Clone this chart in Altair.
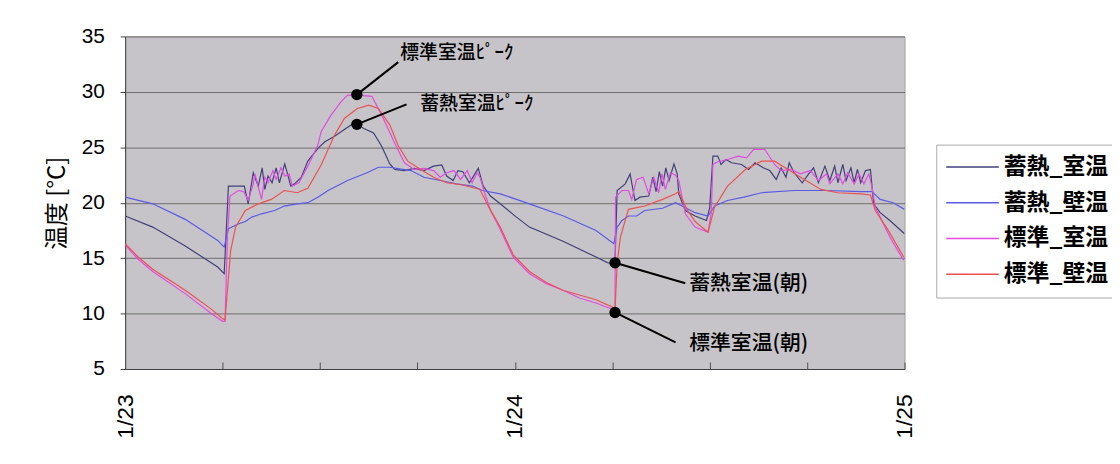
import altair as alt
import pandas as pd

# ---- data (hours from 1/23 00:00, temperature in degC) ----
series_names = ["蓄熱_室温", "蓄熱_壁温", "標準_室温", "標準_壁温"]
series_colors = ["#40407a", "#5a5ae6", "#e44ae4", "#ee5050"]

storage_room = [(0, 18.8), (1.7, 17.8), (3.7, 16.1), (5.7, 14.2), (6.1, 13.6), (6.36, 21.5), (7.34, 21.5),
                (7.58, 19.9), (7.89, 22.7), (8.2, 21.5), (8.44, 23.15), (8.6, 21.2), (8.8, 22.4), (9.05, 21.8),
                (9.3, 23.15), (9.5, 21.8), (9.83, 23.5), (10.0, 22.6), (10.2, 21.5), (10.44, 21.7), (10.85, 22.3),
                (11.25, 23.75), (11.87, 24.9), (12.3, 25.5), (12.9, 26.0), (13.5, 26.6), (14.1, 27.2), (14.27, 27.07),
                (14.7, 26.7), (15.3, 26.3), (15.8, 25.1), (16.3, 23.5), (16.6, 23.0), (17.2, 22.9), (17.8, 23.1),
                (18.4, 22.9), (19.0, 23.3), (19.5, 23.4), (19.8, 22.4), (20.2, 22.0), (20.5, 22.9), (20.8, 22.8),
                (21.2, 21.8), (21.75, 23.1), (22.05, 21.5), (22.5, 20.6), (23.1, 19.9), (24.1, 18.7), (24.9, 17.8),
                (27.0, 16.5), (29.0, 15.1), (29.7, 14.6), (30.17, 14.5), (30.3, 21.1), (30.8, 21.7), (31.1, 22.6),
                (31.4, 20.2), (31.7, 20.5), (32.25, 20.6), (32.5, 22.3), (32.7, 21.0), (32.9, 22.8), (33.1, 21.5),
                (33.3, 23.15), (33.5, 22.0), (33.8, 23.5), (34.0, 22.6), (34.1, 20.8), (34.5, 19.3), (35.1, 18.8),
                (35.8, 18.4), (36.0, 19.5), (36.2, 24.2), (36.5, 24.2), (36.7, 23.45), (37.0, 23.9), (37.35, 23.6),
                (37.96, 23.45), (38.4, 23.0), (38.8, 23.6), (39.3, 23.15), (39.7, 22.9), (40.1, 22.1), (40.4, 23.15),
                (40.7, 22.3), (40.9, 23.6), (41.2, 22.7), (41.7, 21.8), (42.1, 22.6), (42.4, 23.15), (42.7, 21.8),
                (43.1, 23.3), (43.4, 22.0), (43.7, 23.3), (43.9, 21.8), (44.2, 23.45), (44.4, 22.0), (44.7, 23.15),
                (44.9, 21.8), (45.1, 23.0), (45.3, 21.8), (45.6, 22.9), (45.9, 23.0), (46.1, 19.9), (46.5, 19.1),
                (47.1, 18.4), (48.0, 17.2)]

storage_wall = [(0, 20.5), (1.7, 19.9), (3.7, 18.5), (5.7, 16.6), (6.1, 16.0), (6.36, 17.65), (7.0, 18.1),
                (7.4, 18.3), (7.8, 18.7), (8.4, 19.0), (9.2, 19.3), (9.8, 19.7), (10.6, 19.9), (11.25, 20.0),
                (11.87, 20.5), (12.5, 21.1), (13.7, 22.0), (14.9, 22.7), (15.6, 23.2), (16.3, 23.2), (17.6, 22.9),
                (18.4, 22.3), (19.4, 22.0), (20.4, 21.7), (21.4, 21.5), (22.0, 21.1), (23.1, 20.8), (24.1, 20.3),
                (24.9, 19.9), (27.0, 18.8), (29.0, 17.5), (30.1, 16.3), (30.3, 17.8), (30.6, 18.4), (31.0, 18.8),
                (31.5, 18.8), (32.0, 19.3), (33.1, 19.5), (33.9, 20.0), (34.3, 19.7), (35.1, 19.1), (35.9, 18.8),
                (36.3, 19.7), (37.1, 20.2), (38.1, 20.5), (39.2, 20.9), (41.2, 21.1), (43.2, 21.1), (45.3, 21.0),
                (46.0, 21.0), (46.5, 20.3), (47.3, 20.0), (48.0, 19.4)]

standard_room = [(0, 16.2), (0.8, 14.9), (1.7, 13.8), (3.7, 11.8), (5.3, 10.0), (6.0, 9.3), (6.15, 9.3),
                 (6.3, 17.0), (6.46, 20.6), (6.97, 21.1), (7.3, 21.0), (7.58, 20.2), (7.89, 21.7), (7.99, 22.6),
                 (8.4, 20.3), (8.6, 22.3), (8.8, 21.8), (9.1, 22.9), (9.3, 22.1), (9.6, 23.15), (9.83, 22.4),
                 (10.1, 22.6), (10.3, 21.5), (10.7, 21.8), (11.25, 23.3), (11.87, 25.2), (12.07, 26.4), (12.68, 27.9),
                 (13.29, 29.1), (13.7, 29.7), (14.3, 29.7), (15.2, 29.6), (15.9, 27.6), (16.56, 25.5), (17.2, 23.6),
                 (17.8, 23.0), (18.4, 23.1), (19.0, 22.9), (19.4, 22.3), (19.8, 22.7), (20.25, 22.9), (20.66, 22.1),
                 (21.07, 22.9), (21.37, 21.8), (21.68, 22.7), (21.88, 22.2), (22.09, 21.1), (22.5, 19.3), (23.0, 17.9),
                 (23.9, 15.1), (24.9, 13.6), (25.94, 12.7), (26.96, 12.1), (27.98, 11.4), (29.0, 10.95), (30.0, 10.4),
                 (30.17, 10.1), (30.2, 20.5), (30.6, 21.1), (31.0, 21.1), (31.2, 20.3), (31.5, 22.1), (31.9, 22.3),
                 (32.25, 20.8), (32.56, 22.3), (32.86, 20.9), (33.07, 22.6), (33.27, 21.2), (33.58, 22.7),
                 (33.88, 22.5), (34.1, 22.0), (34.5, 19.0), (35.1, 17.8), (35.9, 17.35), (36.1, 19.1), (36.2, 23.45),
                 (36.5, 23.7), (37.1, 23.9), (37.76, 24.2), (38.27, 24.05), (38.7, 24.8), (39.4, 24.8), (40.0, 23.45),
                 (40.4, 22.9), (41.0, 23.0), (41.6, 22.6), (42.2, 22.9), (42.7, 22.0), (43.2, 22.6), (43.4, 21.7),
                 (43.9, 22.6), (44.2, 21.7), (44.5, 22.7), (44.9, 21.7), (45.2, 22.6), (45.5, 21.7), (45.8, 22.6),
                 (46.0, 21.4), (46.2, 19.6), (46.5, 18.7), (47.1, 16.9), (47.5, 15.9), (47.95, 14.8)]

standard_wall = [(0, 16.3), (0.8, 15.1), (1.7, 14.0), (3.7, 12.1), (5.3, 10.4), (5.95, 9.6), (6.15, 9.4),
                 (6.5, 15.7), (6.8, 17.8), (7.4, 19.3), (8.2, 19.9), (9.0, 20.3), (9.8, 21.1), (10.6, 20.9),
                 (11.25, 21.3), (12.07, 23.4), (12.9, 26.1), (13.5, 27.6), (14.3, 28.5), (15.0, 28.8), (15.6, 28.5),
                 (16.3, 27.0), (16.8, 25.2), (17.4, 23.75), (18.2, 23.0), (19.0, 22.3), (19.8, 21.8), (20.8, 21.6),
                 (21.85, 21.2), (22.4, 19.6), (23.1, 17.8), (23.9, 15.3), (24.9, 13.8), (25.94, 12.8), (26.96, 12.1),
                 (29.0, 11.25), (30.0, 10.6), (30.17, 10.3), (30.3, 14.5), (30.5, 16.9), (31.0, 19.4), (32.0, 19.7),
                 (33.1, 20.3), (33.9, 20.8), (34.1, 21.0), (34.6, 19.4), (35.1, 18.3), (35.9, 17.35), (36.3, 19.6),
                 (37.1, 21.5), (38.2, 23.0), (39.2, 23.75), (40.0, 23.75), (40.6, 23.2), (41.6, 22.3), (42.85, 21.2),
                 (43.9, 20.9), (45.3, 20.8), (45.9, 20.7), (46.2, 19.3), (47.0, 17.5), (47.95, 15.1)]

x_tick_hours = [6, 12, 18, 24, 30, 36, 42, 48]
x_label_hours = [0, 24, 48]
y_ticks = [5, 10, 15, 20, 25, 30, 35]

ann_labels = ["標準室温ﾋﾟｰｸ", "蓄熱室温ﾋﾟｰｸ", "蓄熱室温(朝)", "標準室温(朝)"]
ann_dot_h = [14.27, 14.27, 30.17, 30.17]
ann_dot_v = [29.75, 27.07, 14.58, 10.1]
ann_end_h = [16.82, 17.33, 34.5, 33.9]
ann_end_v = [32.68, 28.87, 12.74, 7.41]
ann_text_h = [16.94, 18.17, 34.74, 34.74]
ann_text_v = [33.48, 28.93, 12.68, 7.23]

# ---- tables ----
rows = []
for name, pts in zip(series_names, [storage_room, storage_wall, standard_room, standard_wall]):
    for i, (h, v) in enumerate(pts):
        rows.append({"s": name, "h": h, "v": v, "i": i})
df = pd.DataFrame(rows)

ann = pd.DataFrame({"label": ann_labels, "h": ann_dot_h, "v": ann_dot_v,
                    "h2": ann_end_h, "v2": ann_end_v, "th": ann_text_h, "tv": ann_text_v})
ticks_df = pd.DataFrame({"h": x_tick_hours})

NUM_FONT = "Liberation Sans"
JP_FONT = "Noto Sans CJK JP"

x_scale = alt.Scale(domain=[0, 48], nice=False, zero=False)
y_scale = alt.Scale(domain=[5, 35], nice=False, zero=False)

label_expr = "datum.value == 0 ? '1/23' : (datum.value == 24 ? '1/24' : '1/25')"

lines = alt.Chart(df).mark_line(strokeWidth=1.2, clip=True).encode(
    x=alt.X("h:Q", scale=x_scale,
            axis=alt.Axis(values=x_label_hours, labelExpr=label_expr, labelAngle=270, labelAlign="right",
                          labelBaseline="middle", labelPadding=25, ticks=False, grid=False,
                          domainColor="#404040", labelFont=NUM_FONT, labelFontSize=23, labelColor="#000000",
                          title=None)),
    y=alt.Y("v:Q", scale=y_scale,
            axis=alt.Axis(values=y_ticks, grid=True, gridColor="#6e6e6e", gridWidth=1,
                          domainColor="#404040", tickColor="#404040", tickSize=5, labelPadding=16,
                          labelFont=NUM_FONT, labelFontSize=21, labelColor="#000000",
                          title="温度 [°C]", titleFont=JP_FONT, titleFontSize=24, titleFontWeight="normal",
                          titleColor="#000000", titlePadding=12)),
    color=alt.Color("s:N", scale=alt.Scale(domain=series_names, range=series_colors),
                    legend=alt.Legend(title=None, orient="none", legendX=817, legendY=109,
                                      symbolType="M-3,0H3", symbolSize=312, symbolStrokeWidth=1.5,
                                      symbolOffset=14, labelOffset=20,
                                      labelFont=JP_FONT, labelFontSize=23, labelFontWeight="bold",
                                      labelColor="#000000", labelLimit=400, rowPadding=12, padding=11,
                                      strokeColor="#a8a8a8", fillColor="#ffffff")),
    detail="s:N",
    order="i:Q",
)

rules = alt.Chart(ann).mark_rule(color="#000000", strokeWidth=2).encode(
    x=alt.X("h:Q", scale=x_scale, axis=None), y=alt.Y("v:Q", scale=y_scale),
    x2="h2:Q", y2="v2:Q",
)

dots = alt.Chart(ann).mark_circle(color="#000000", size=130, opacity=1).encode(
    x=alt.X("h:Q", scale=x_scale, axis=None), y=alt.Y("v:Q", scale=y_scale),
)

peak_texts = alt.Chart(ann).transform_filter("indexof(datum.label, 'ﾋﾟｰｸ') >= 0").mark_text(
    align="left", baseline="middle", font=JP_FONT, fontSize=19, fontWeight=500, color="#000000").encode(
    x=alt.X("th:Q", scale=x_scale, axis=None), y=alt.Y("tv:Q", scale=y_scale), text="label:N",
)

morning_texts = alt.Chart(ann).transform_filter("indexof(datum.label, 'ﾋﾟｰｸ') < 0").mark_text(
    align="left", baseline="middle", font=JP_FONT, fontSize=21, fontWeight=500, color="#000000").encode(
    x=alt.X("th:Q", scale=x_scale, axis=None), y=alt.Y("tv:Q", scale=y_scale), text="label:N",
)

inner_ticks = alt.Chart(ticks_df).mark_point(opacity=0).encode(
    x=alt.X("h:Q", scale=x_scale,
            axis=alt.Axis(orient="bottom", offset=-7, values=x_tick_hours, labels=False, domain=False,
                          grid=False, ticks=True, tickSize=7, tickColor="#505050", title=None)),
)

chart = alt.layer(lines, rules, dots, peak_texts, morning_texts, inner_ticks).resolve_axis(
    x="independent").properties(
    width=785, height=335,
    background="#ffffff",
    autosize=alt.AutoSizeParams(type="none"),
    padding={"left": 118, "top": 27, "right": 209, "bottom": 86},
).configure_view(
    fill="#c6c4c8", stroke="#a0a0a0", strokeWidth=1,
)

chart.save("out.html", embed_options={"renderer": "svg", "actions": False})
